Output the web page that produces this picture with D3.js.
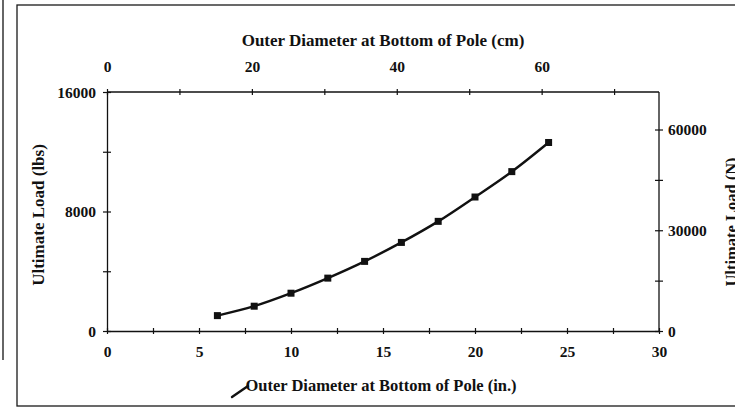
<!DOCTYPE html>
<html>
<head>
<meta charset="utf-8">
<script src="https://cdn.jsdelivr.net/npm/d3@7"></script>
<style>
  html, body { margin: 0; padding: 0; background: #fff; }
  svg { display: block; }
  text { font-family: "Liberation Serif", "Times New Roman", serif; font-weight: bold; fill: #111; }
</style>
</head>
<body>
<script>
// Pole outer diameter (in.) vs. ultimate load (lbs)
const diameterIn = [6, 8, 10, 12, 14, 16, 18, 20, 22, 24];
const loadLbs = [1030, 1660, 2530, 3540, 4660, 5930, 7340, 8970, 10670, 12620];

// Tick values for the four axes
const inchTicks = [0, 2.5, 5, 7.5, 10, 12.5, 15, 17.5, 20, 22.5, 25, 27.5, 30];
const inchLabels = [0, 5, 10, 15, 20, 25, 30];
const cmTicks = [0, 10, 20, 30, 40, 50, 60, 70];
const cmLabels = [0, 20, 40, 60];
const lbsTicks = [0, 4000, 8000, 12000, 16000];
const lbsLabels = [0, 8000, 16000];
const newtonTicks = [0, 15000, 30000, 45000, 60000];
const newtonLabels = [0, 30000, 60000];

const IN_TO_CM = 2.54;
const LBF_TO_N = 4.448;

const W = 735, H = 417;
const svg = d3.select("body").append("svg").attr("width", W).attr("height", H);

// outer frame
svg.append("rect")
  .attr("x", 17).attr("y", 5).attr("width", 740).attr("height", 401)
  .attr("fill", "none").attr("stroke", "#1a1a1a").attr("stroke-width", 1.3);
svg.append("line")
  .attr("x1", 3).attr("x2", 3).attr("y1", 0).attr("y2", 360)
  .attr("stroke", "#333").attr("stroke-width", 1.5);

const plotLeft = 107, plotRight = 659, plotTop = 92, plotBottom = 331;

const x = d3.scaleLinear().domain([0, 30]).range([plotLeft, plotRight]);
const xCm = d3.scaleLinear().domain([0, 30 * IN_TO_CM]).range([plotLeft, plotRight]);
const y = d3.scaleLinear().domain([0, 16000]).range([plotBottom, plotTop]);
const yN = d3.scaleLinear().domain([0, 16000 * LBF_TO_N]).range([plotBottom, plotTop]);

function styleAxis(g) {
  g.select(".domain").attr("stroke", "#111").attr("stroke-width", 1.3);
  g.selectAll(".tick line").attr("stroke", "#111").attr("stroke-width", 1.2);
  g.selectAll("text").attr("font-size", 15.5).attr("fill", "#111")
    .style("font-family", "'Liberation Serif', serif").style("font-weight", "bold");
}

// bottom axis (inches)
const gB = svg.append("g").attr("transform", `translate(0,${plotBottom})`)
  .call(d3.axisBottom(x).tickValues(inchTicks).tickSizeOuter(0)
    .tickFormat(d => inchLabels.includes(d) ? d : ""));
gB.selectAll(".tick line").attr("y1", -3).attr("y2", 3);
gB.selectAll(".tick text").attr("y", 26).attr("dy", 0);
styleAxis(gB);

// top axis (cm)
const gT = svg.append("g").attr("transform", `translate(0,${plotTop})`)
  .call(d3.axisTop(xCm).tickValues(cmTicks).tickSizeOuter(0)
    .tickFormat(d => cmLabels.includes(d) ? d : ""));
gT.select(".domain").attr("d", `M${plotLeft},0H${plotRight}`);
gT.selectAll(".tick line").attr("y1", -3).attr("y2", 3);
gT.selectAll(".tick text").attr("y", -20).attr("dy", 0);
styleAxis(gT);

// left axis (lbs)
const gL = svg.append("g").attr("transform", `translate(${plotLeft},0)`)
  .call(d3.axisLeft(y).tickValues(lbsTicks).tickSizeOuter(0)
    .tickFormat(d => lbsLabels.includes(d) ? d : ""));
gL.selectAll(".tick line").attr("x1", -4).attr("x2", 4);
gL.selectAll(".tick text").attr("x", -11).attr("dy", "0.33em");
styleAxis(gL);

// right axis (N)
const gR = svg.append("g").attr("transform", `translate(${plotRight},0)`)
  .call(d3.axisRight(yN).tickValues(newtonTicks).tickSizeOuter(0)
    .tickFormat(d => newtonLabels.includes(d) ? d : ""));
gR.select(".domain").attr("d", `M0,${plotBottom}V${plotTop}`);
gR.selectAll(".tick line").attr("x1", -4).attr("x2", 4);
gR.selectAll(".tick text").attr("x", 9).attr("dy", "0.33em");
styleAxis(gR);

// axis titles
svg.append("text").attr("x", 383).attr("y", 46).attr("text-anchor", "middle")
  .attr("font-size", 17).text("Outer Diameter at Bottom of Pole (cm)");
svg.append("text").attr("x", 381).attr("y", 391).attr("text-anchor", "middle")
  .attr("font-size", 16.5).text("Outer Diameter at Bottom of Pole (in.)");
svg.append("text").attr("transform", "translate(44,215) rotate(-90)")
  .attr("text-anchor", "middle").attr("font-size", 17).text("Ultimate Load (lbs)");
svg.append("text").attr("transform", "translate(737,222) rotate(-90)")
  .attr("text-anchor", "middle").attr("font-size", 16.5).text("Ultimate Load (N)");

// pen stroke beside the bottom title
svg.append("path").attr("d", "M232,397 L248,386")
  .attr("stroke", "#111").attr("stroke-width", 2.4).attr("fill", "none")
  .attr("stroke-linecap", "round");

// series
const pts = diameterIn.map((d, i) => [d, loadLbs[i]]);
svg.append("path")
  .datum(pts)
  .attr("fill", "none").attr("stroke", "#111").attr("stroke-width", 2.4)
  .attr("d", d3.line().x(d => x(d[0])).y(d => y(d[1])).curve(d3.curveCatmullRom));

svg.selectAll("rect.mk").data(pts).enter().append("rect")
  .attr("class", "mk")
  .attr("x", d => x(d[0]) - 3.5).attr("y", d => y(d[1]) - 3.5)
  .attr("width", 7).attr("height", 7).attr("fill", "#111");
</script>
</body>
</html>
